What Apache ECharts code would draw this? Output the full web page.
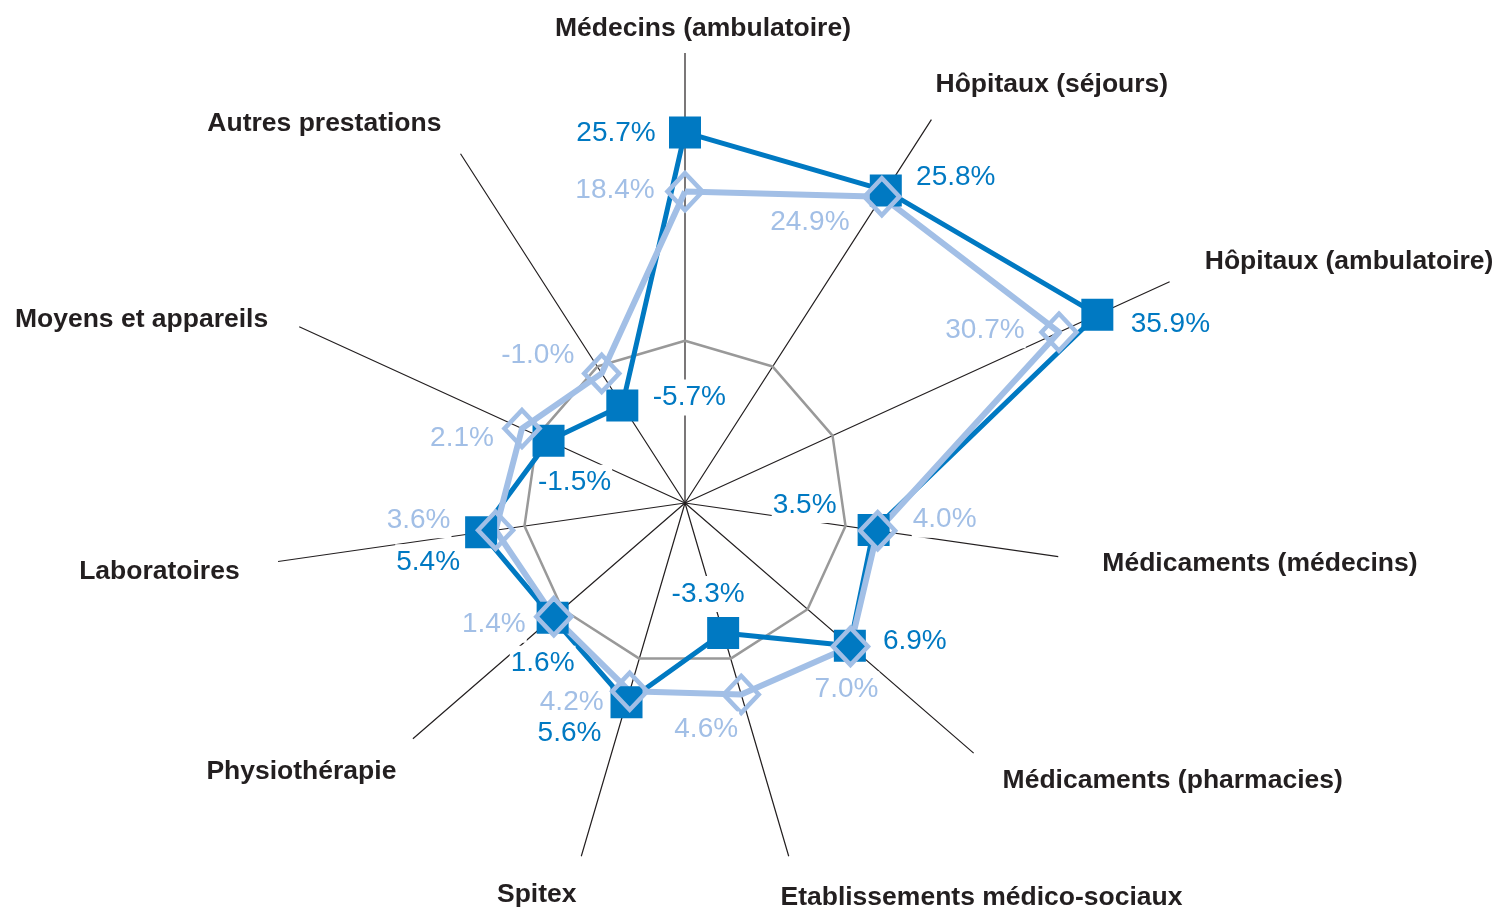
<!DOCTYPE html>
<html>
<head>
<meta charset="utf-8">
<script src="https://cdn.jsdelivr.net/npm/echarts@6/dist/echarts.min.js"></script>
<style>
  html, body { margin: 0; padding: 0; background: #fff; }
  #chart { width: 1499px; height: 910px; }
</style>
</head>
<body>
<div id="chart"></div>
<script>
// axes, clockwise from the top
const categories = [
  "Médecins (ambulatoire)",
  "Hôpitaux (séjours)",
  "Hôpitaux (ambulatoire)",
  "Médicaments (médecins)",
  "Médicaments (pharmacies)",
  "Etablissements médico-sociaux",
  "Spitex",
  "Physiothérapie",
  "Laboratoires",
  "Moyens et appareils",
  "Autres prestations",
];
const seriesDark = [25.7, 25.8, 35.9, 3.5, 6.9, -3.3, 5.6, 1.6, 5.4, -1.5, -5.7];
const seriesLight = [18.4, 24.9, 30.7, 4.0, 7.0, 4.6, 4.2, 1.4, 3.6, 2.1, -1.0];
const zeroRing = [0, 0, 0, 0, 0, 0, 0, 0, 0, 0, 0];
const AXIS_MIN = -20;
const AXIS_MAX = 35;

const DARK = "#0079c2";
const LIGHT = "#a2bfe6";
const INK = "#231f20";
const FONT = "'Liberation Sans', Arial, sans-serif";

// how far each axis line reaches (axis units), the lines are not all equal
const axisReach = [35.5, 36.2, 45.7, 26.5, 27.1, 25.4, 25.4, 24.4, 30.7, 32.3, 31.2];

// value label centre relative to its marker [dx, dy]
const darkLabelShift = [
  [-69, 1], [70, -13], [73, 10], [-69, -25], [65, -5], [-15, -39],
  [-57, 31], [-10, 46], [-53, 30], [26, 42], [67, -8],
];
const lightLabelShift = [
  [-70, -1], [-72, 26], [-74, -2], [67, -11], [-4, 43], [-35, 35],
  [-58, 11], [-60, 8], [-77, -10], [-60, 10], [-64, -18],
];

// nudges for the axis names [dx, dy]
const nameShift = [
  [18, -5], [4, -35], [105, -52], [-34, -4], [-27, -21], [-33, -43],
  [20, -46], [56, -30], [6, 4], [-2, 6], [3, 4],
];

const n = categories.length;
// echarts goes counter-clockwise, so walk the axes backwards
const order = [0];
for (let i = n - 1; i > 0; i--) order.push(i);
const pick = (arr) => order.map((i) => arr[i]);

function namePadding(i) {
  const [dx, dy] = nameShift[i];
  const ang = ((90 - (i * 360) / n) * Math.PI) / 180;
  const c = Math.cos(ang);
  let pt = 0, pr = 0, pb = 0, pl = 0;
  if (Math.abs(c) < 1e-6) {
    if (dx > 0) pl = 2 * dx; else pr = -2 * dx;
    if (dy < 0) pb = -dy; else pt = dy;
  } else {
    if (c > 0) pl = dx; else pr = -dx;
    if (dy < 0) pb = -2 * dy; else pt = 2 * dy;
  }
  return [pt, pr, pb, pl];
}

const rich = {};
categories.forEach((c, i) => {
  rich["n" + i] = {
    fontFamily: FONT, fontSize: 26.5, fontWeight: "bold", color: INK,
    padding: namePadding(i),
  };
});

const fmt = (v) => v.toFixed(1) + "%";

// one invisible copy of the polygon per label, so every label can sit on its own side
function labelSeries(values, shifts, color, symbol, size) {
  const vals = pick(values);
  return pick(shifts).map((shift, k) => ({
    type: "radar",
    silent: true,
    symbol: symbol,
    symbolSize: size,
    itemStyle: { color: "rgba(255,255,255,0)", borderWidth: 0 },
    lineStyle: { opacity: 0, width: 0 },
    label: {
      show: true,
      position: "inside",
      offset: shift,
      color: color,
      textBorderWidth: 0,
      fontFamily: FONT,
      fontSize: 28,
      formatter: (p) => (p.dimensionIndex === k ? "{v|" + fmt(p.value) + "}" : ""),
      rich: {
        v: {
          color: color, fontFamily: FONT, fontSize: 28, lineHeight: 24,
          backgroundColor: "#fff", padding: [4, 1],
        },
      },
    },
    data: [{ value: vals }],
  }));
}

// axis lines as spikes from the centre
const axisSpikes = categories.map((c, i) => ({
  value: pick(categories.map((_, j) => (j === i ? axisReach[i] : AXIS_MIN))),
}));

const chart = echarts.init(document.getElementById("chart"));
chart.setOption({
  animation: false,
  backgroundColor: "#fff",
  radar: {
    center: [685, 503],
    radius: 446,
    startAngle: 90,
    shape: "polygon",
    axisNameGap: 10,
    indicator: order.map((i) => ({ name: categories[i], min: AXIS_MIN, max: AXIS_MAX })),
    axisName: {
      formatter: (name) => "{n" + categories.indexOf(name) + "|" + name + "}",
      fontFamily: FONT,
      fontSize: 26.5,
      fontWeight: "bold",
      color: INK,
      rich: rich,
    },
    axisLine: { show: false },
    axisTick: { show: false },
    axisLabel: { show: false },
    splitLine: { show: false },
    splitArea: { show: false },
  },
  series: [
    {
      type: "radar",
      silent: true,
      symbol: "none",
      lineStyle: { color: INK, width: 1.2, join: "bevel" },
      data: axisSpikes,
    },
    {
      type: "radar",
      silent: true,
      symbol: "none",
      lineStyle: { color: "#999999", width: 2.5 },
      data: [{ value: pick(zeroRing) }],
    },
    {
      type: "radar",
      name: "dark",
      silent: true,
      symbol: "rect",
      symbolSize: 32,
      itemStyle: { color: DARK },
      lineStyle: { color: DARK, width: 5 },
      data: [{ value: pick(seriesDark) }],
    },
    {
      type: "radar",
      name: "light",
      silent: true,
      symbol: "diamond",
      symbolSize: [35, 37],
      itemStyle: { color: "rgba(255,255,255,0)", borderColor: LIGHT, borderWidth: 4.5 },
      lineStyle: { color: LIGHT, width: 6 },
      data: [{ value: pick(seriesLight) }],
    },
    ...labelSeries(seriesDark, darkLabelShift, DARK, "rect", 32),
    ...labelSeries(seriesLight, lightLabelShift, LIGHT, "diamond", [35, 37]),
  ],
});
</script>
</body>
</html>
